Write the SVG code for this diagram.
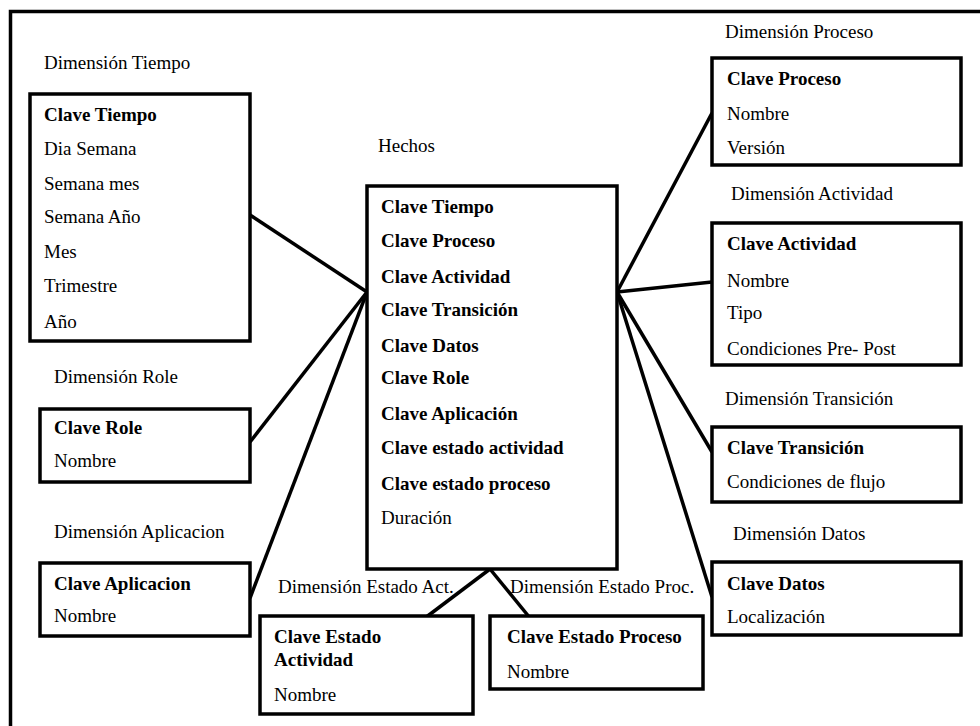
<svg xmlns="http://www.w3.org/2000/svg" width="980" height="726" viewBox="0 0 980 726">
<style>
text{font-family:"Liberation Serif","Times New Roman",serif;font-size:19px;fill:#000}
.b{font-weight:bold}
.box{fill:#fff;stroke:#000;stroke-width:3.5}
.c{stroke:#000;stroke-width:3.5;fill:none}
</style>
<rect x="0" y="0" width="980" height="726" fill="#fff"/>
<rect x="10.5" y="11.5" width="1000" height="800" fill="none" stroke="#000" stroke-width="3.5"/>
<g id="connectors">
<line class="c" x1="367" y1="292" x2="250" y2="215"/>
<line class="c" x1="367" y1="292" x2="250" y2="442"/>
<line class="c" x1="367" y1="292" x2="250" y2="598"/>
<line class="c" x1="617" y1="292" x2="712" y2="113"/>
<line class="c" x1="617" y1="292" x2="712" y2="282"/>
<line class="c" x1="617" y1="292" x2="712" y2="452"/>
<line class="c" x1="617" y1="292" x2="712" y2="597"/>
<line class="c" x1="490" y1="569" x2="425" y2="618"/>
<line class="c" x1="490" y1="569" x2="530" y2="618"/>
</g>
<g id="hechos">
<text x="378" y="152">Hechos</text>
<rect class="box" x="367" y="186" width="250" height="383"/>
<text class="b" x="381" y="213">Clave Tiempo</text>
<text class="b" x="381" y="247">Clave Proceso</text>
<text class="b" x="381" y="283">Clave Actividad</text>
<text class="b" x="381" y="316">Clave Transición</text>
<text class="b" x="381" y="352">Clave Datos</text>
<text class="b" x="381" y="384">Clave Role</text>
<text class="b" x="381" y="420">Clave Aplicación</text>
<text class="b" x="381" y="454">Clave estado actividad</text>
<text class="b" x="381" y="490">Clave estado proceso</text>
<text x="381" y="524">Duración</text>
</g>
<g id="dim-tiempo">
<text x="44" y="69">Dimensión Tiempo</text>
<rect class="box" x="30" y="94" width="220" height="247"/>
<text class="b" x="44" y="121">Clave Tiempo</text>
<text x="44" y="155">Dia Semana</text>
<text x="44" y="190">Semana mes</text>
<text x="44" y="223">Semana Año</text>
<text x="44" y="258">Mes</text>
<text x="44" y="292">Trimestre</text>
<text x="44" y="328">Año</text>
</g>
<g id="dim-role">
<text x="54" y="383">Dimensión Role</text>
<rect class="box" x="40" y="409" width="210" height="73"/>
<text class="b" x="54" y="434">Clave Role</text>
<text x="54" y="467">Nombre</text>
</g>
<g id="dim-aplicacion">
<text x="54" y="538">Dimensión Aplicacion</text>
<rect class="box" x="40" y="563" width="210" height="73"/>
<text class="b" x="54" y="590">Clave Aplicacion</text>
<text x="54" y="622">Nombre</text>
</g>
<g id="dim-estado-act">
<text x="278" y="593">Dimensión Estado Act.</text>
<rect class="box" x="260" y="616" width="213" height="98"/>
<text class="b" x="274" y="643">Clave Estado</text>
<text class="b" x="274" y="666">Actividad</text>
<text x="274" y="701">Nombre</text>
</g>
<g id="dim-estado-proc">
<text x="510" y="593">Dimensión Estado Proc.</text>
<rect class="box" x="490" y="616" width="213" height="73"/>
<text class="b" x="507" y="643">Clave Estado Proceso</text>
<text x="507" y="678">Nombre</text>
</g>
<g id="dim-proceso">
<text x="725" y="38">Dimensión Proceso</text>
<rect class="box" x="712" y="58" width="249" height="107"/>
<text class="b" x="727" y="85">Clave Proceso</text>
<text x="727" y="120">Nombre</text>
<text x="727" y="154">Versión</text>
</g>
<g id="dim-actividad">
<text x="731" y="200">Dimensión Actividad</text>
<rect class="box" x="712" y="223" width="249" height="142"/>
<text class="b" x="727" y="250">Clave Actividad</text>
<text x="727" y="287">Nombre</text>
<text x="727" y="319">Tipo</text>
<text x="727" y="355">Condiciones Pre- Post</text>
</g>
<g id="dim-transicion">
<text x="725" y="405">Dimensión Transición</text>
<rect class="box" x="712" y="427" width="249" height="75"/>
<text class="b" x="727" y="454">Clave Transición</text>
<text x="727" y="488">Condiciones de flujo</text>
</g>
<g id="dim-datos">
<text x="733" y="540">Dimensión Datos</text>
<rect class="box" x="712" y="562" width="249" height="73"/>
<text class="b" x="727" y="590">Clave Datos</text>
<text x="727" y="623">Localización</text>
</g>
</svg>
